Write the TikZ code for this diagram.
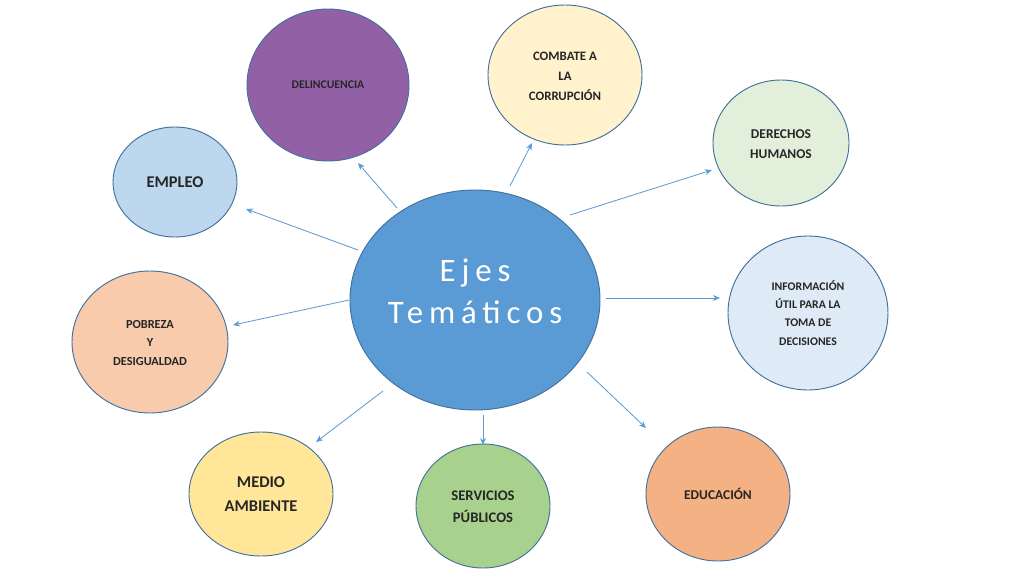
\documentclass[tikz,border=0pt]{standalone}
\usepackage{fontspec}
\setmainfont{Carlito}
\newfontfamily\spaced[LetterSpace=18]{Carlito}
\begin{document}
\begin{tikzpicture}[x=0.03cm,y=-0.03cm,
 bub/.style={ellipse,draw=bordc,line width=0.8pt,minimum width=2*#1},
 lbl/.style={align=center,font=\bfseries,text=black!85},
 arr/.style={draw=arrc,line width=0.7pt,-{Stealth[length=6pt,width=5pt]}}]
\usetikzlibrary{shapes.geometric,arrows.meta}
\definecolor{bordc}{HTML}{41719C}
\definecolor{arrc}{HTML}{5B9BD5}
\useasboundingbox (0,0) rectangle (1024,576);
\fill[white] (0,0) rectangle (1024,576);
\newcommand\bubble[7]{\path[fill=#6,draw=bordc,line width=0.8pt] (#2,#3) ellipse [x radius=#4,y radius=#5];
 \node[lbl,font=\bfseries#7] (#1) at (#2,#3) {#1X};}
% ellipses
\path[fill={rgb,255:red,91;green,155;blue,213},draw=bordc,line width=0.8pt] (475,300) ellipse [x radius=125,y radius=110];
\node[align=center,text=white,font=\spaced\fontsize{28}{36}\selectfont] (c) at (475,291) {Ejes\\Temáticos};
\path[fill={rgb,255:red,146;green,97;blue,165},draw=bordc,line width=0.8pt] (328,85) ellipse [x radius=81,y radius=76];
\node[lbl,font=\bfseries\fontsize{10}{12}\selectfont] (del) at (328,85) {DELINCUENCIA};
\path[fill={rgb,255:red,255;green,242;blue,204},draw=bordc,line width=0.8pt] (565,75) ellipse [x radius=77,y radius=70];
\node[lbl,font=\bfseries\fontsize{11}{17}\selectfont] (com) at (565,76) {COMBATE A\\LA\\CORRUPCIÓN};
\path[fill={rgb,255:red,226;green,239;blue,218},draw=bordc,line width=0.8pt] (781,143) ellipse [x radius=68,y radius=63];
\node[lbl,font=\bfseries\fontsize{11.5}{17}\selectfont] (der) at (781,144) {DERECHOS\\HUMANOS};
\path[fill={rgb,255:red,222;green,235;blue,247},draw=bordc,line width=0.8pt] (808,313) ellipse [x radius=80,y radius=77];
\node[lbl,font=\bfseries\fontsize{10}{15.5}\selectfont] (inf) at (808,313) {INFORMACIÓN\\ÚTIL PARA LA\\TOMA DE\\DECISIONES};
\path[fill={rgb,255:red,244;green,177;blue,131},draw=bordc,line width=0.8pt] (718,494) ellipse [x radius=72,y radius=67];
\node[lbl,font=\bfseries\fontsize{11.5}{14}\selectfont] (edu) at (718,494) {EDUCACIÓN};
\path[fill={rgb,255:red,169;green,209;blue,142},draw=bordc,line width=0.8pt] (483,506) ellipse [x radius=67,y radius=62];
\node[lbl,font=\bfseries\fontsize{12.5}{19}\selectfont] (ser) at (483,507) {SERVICIOS\\PÚBLICOS};
\path[fill={rgb,255:red,255;green,230;blue,153},draw=bordc,line width=0.8pt] (261,494) ellipse [x radius=72,y radius=62];
\node[lbl,font=\bfseries\fontsize{14}{20}\selectfont] (med) at (261,494) {MEDIO\\AMBIENTE};
\path[fill={rgb,255:red,248;green,203;blue,173},draw=bordc,line width=0.8pt] (150,342) ellipse [x radius=78,y radius=71];
\node[lbl,font=\bfseries\fontsize{10.5}{16}\selectfont] (pob) at (150,343) {POBREZA\\Y\\DESIGUALDAD};
\path[fill={rgb,255:red,189;green,215;blue,238},draw=bordc,line width=0.8pt] (175,182) ellipse [x radius=62,y radius=55];
\node[lbl,font=\bfseries\fontsize{14}{17}\selectfont] (emp) at (175,182) {EMPLEO};
% arrow endpoints
\coordinate (s1) at (397,208); \coordinate (e1) at (358,163);
\coordinate (s2) at (510,186); \coordinate (e2) at (532,143);
\coordinate (s3) at (570,215); \coordinate (e3) at (712,170);
\coordinate (s4) at (606,298); \coordinate (e4) at (720,298);
\coordinate (s5) at (587,372); \coordinate (e5) at (646,428);
\coordinate (s6) at (483,415); \coordinate (e6) at (483,445);
\coordinate (s7) at (383,391); \coordinate (e7) at (316,442);
\coordinate (s8) at (349,300); \coordinate (e8) at (233,325);
\coordinate (s9) at (358,250); \coordinate (e9) at (246,209);
\foreach \i in {1,...,9} \draw[arr] (s\i) -- (e\i);
\end{tikzpicture}
\end{document}
